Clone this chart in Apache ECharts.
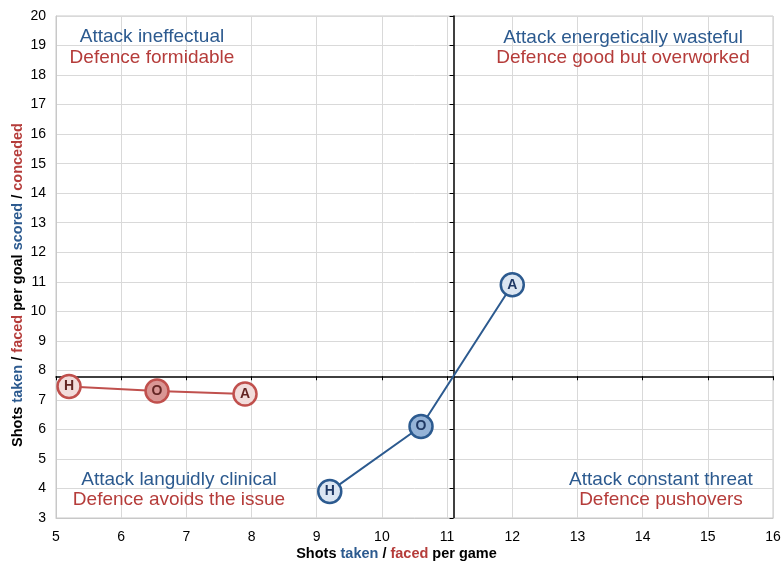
<!DOCTYPE html>
<html>
<head>
<meta charset="utf-8">
<script src="https://cdn.jsdelivr.net/npm/echarts@6/dist/echarts.min.js"></script>
<style>html,body{margin:0;padding:0;background:#fff}#c{width:782px;height:561px}</style>
</head>
<body>
<div id="c"></div>
<script>
// ---- data ----
const letters = ['H', 'O', 'A'];
const attackX = [9.2, 10.6, 12.0];   // shots taken per game
const attackY = [3.9, 6.1, 10.9];    // shots taken per goal scored
const defenceX = [5.2, 6.55, 7.9];   // shots faced per game
const defenceY = [7.45, 7.3, 7.2];   // shots faced per goal conceded
const avgX = 11.1;
const avgY = 7.8;
const xMin = 5, xMax = 16;
const yMin = 3, yMax = 20;

const BLUE = '#2c5a8f';
const RED = '#b53c3a';
const font = 'Liberation Sans, Arial, sans-serif';

function pts(xs, ys, fillNormal, fillMid, stroke, lab) {
  return xs.map((x, i) => ({
    value: [x, ys[i]],
    name: letters[i],
    itemStyle: { color: i === 1 ? fillMid : fillNormal, borderColor: stroke, borderWidth: 2.5 },
    label: { color: lab }
  }));
}

const chart = echarts.init(document.getElementById('c'), null, { renderer: 'canvas' });
const labelStyle = { color: '#000', fontSize: 14, fontFamily: font };
const nameRich = {
  a: { fontSize: 14.5, fontWeight: 'bold', color: '#000', fontFamily: font },
  b: { fontSize: 14.5, fontWeight: 'bold', color: BLUE, fontFamily: font },
  c: { fontSize: 14.5, fontWeight: 'bold', color: RED, fontFamily: font }
};

function qText(x, y, text, color) {
  return { type: 'text', x: x, y: y, z: 100, style: { text: text, fill: color, font: '19px ' + font, textAlign: 'center', textVerticalAlign: 'middle' } };
}

chart.setOption({
  animation: false,
  backgroundColor: '#fff',
  grid: {
    left: 56, right: 9, top: 16, bottom: 43, containLabel: false, outerBoundsMode: 'none',
    show: true, borderColor: '#c8c8c8', borderWidth: 1
  },
  xAxis: [
    {
      type: 'value', min: xMin, max: xMax, interval: 1,
      axisLine: { onZero: false, lineStyle: { color: '#c8c8c8' } },
      axisTick: { show: false },
      axisLabel: Object.assign({ margin: 12 }, labelStyle),
      splitLine: { lineStyle: { color: '#d9d9d9' } },
      name: '{a|Shots }{b|taken}{a| / }{c|faced}{a| per game}',
      nameLocation: 'middle', nameGap: 28, nameMoveOverlap: false,
      nameTextStyle: { rich: nameRich, padding: [0, 36, 0, 0] }
    },
    {
      type: 'value', min: xMin, max: xMax, interval: 1, position: 'bottom',
      axisLine: { onZero: true, onZeroAxisIndex: 2, lineStyle: { color: '#000', width: 1.5 } },
      axisTick: { show: true, length: 4, lineStyle: { color: '#000', width: 1 } },
      axisLabel: { show: false },
      splitLine: { show: false }
    },
    {
      type: 'value', min: xMin - avgX, max: xMax - avgX, show: false,
      axisLine: { onZero: false }, splitLine: { show: false }
    }
  ],
  yAxis: [
    {
      type: 'value', min: yMin, max: yMax, interval: 1,
      axisLine: { show: true, onZero: false, lineStyle: { color: '#c8c8c8' } },
      axisTick: { show: false },
      axisLabel: Object.assign({ margin: 10 }, labelStyle),
      splitLine: { lineStyle: { color: '#d9d9d9' } },
      name: '{a|Shots }{b|taken}{a| / }{c|faced}{a| per goal }{b|scored}{a| / }{c|conceded}',
      nameLocation: 'middle', nameGap: 31, nameRotate: 90, nameMoveOverlap: false,
      nameTextStyle: { rich: nameRich, padding: [0, 36, 0, 0] }
    },
    {
      type: 'value', min: yMin, max: yMax, interval: 1, position: 'left',
      axisLine: { show: true, onZero: true, onZeroAxisIndex: 2, lineStyle: { color: '#000', width: 1.5 } },
      axisTick: { show: true, length: 4, lineStyle: { color: '#000', width: 1 } },
      axisLabel: { show: false },
      splitLine: { show: false }
    },
    {
      type: 'value', min: yMin - avgY, max: yMax - avgY, show: false,
      axisLine: { onZero: false }, splitLine: { show: false }
    }
  ],
  series: [
    {
      type: 'line', name: 'Defence', xAxisIndex: 0, yAxisIndex: 0,
      data: pts(defenceX, defenceY, '#f2dcdb', '#d99694', '#c0504d', '#632523'),
      symbol: 'circle', symbolSize: 23,
      lineStyle: { color: '#c0504d', width: 2 },
      label: { show: true, position: 'inside', formatter: p => p.name, fontSize: 14, fontWeight: 'bold', fontFamily: font },
      z: 5
    },
    {
      type: 'line', name: 'Attack', xAxisIndex: 0, yAxisIndex: 0,
      data: pts(attackX, attackY, '#dce6f2', '#95b3d7', '#2c5a8f', '#1f3864'),
      symbol: 'circle', symbolSize: 23,
      lineStyle: { color: '#2c5a8f', width: 2 },
      label: { show: true, position: 'inside', formatter: p => p.name, fontSize: 14, fontWeight: 'bold', fontFamily: font },
      z: 5
    }
  ],
  graphic: [
    qText(152, 37, 'Attack ineffectual', BLUE),
    qText(152, 58, 'Defence formidable', RED),
    qText(623, 38, 'Attack energetically wasteful', BLUE),
    qText(623, 58, 'Defence good but overworked', RED),
    qText(179, 480, 'Attack languidly clinical', BLUE),
    qText(179, 500, 'Defence avoids the issue', RED),
    qText(661, 480, 'Attack constant threat', BLUE),
    qText(661, 500, 'Defence pushovers', RED)
  ]
});
</script>
</body>
</html>
